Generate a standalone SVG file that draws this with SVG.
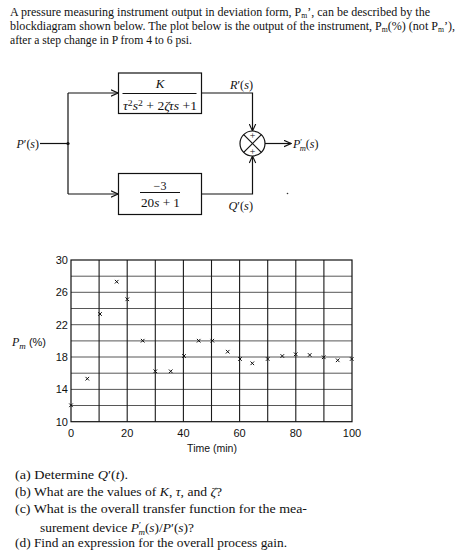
<svg xmlns="http://www.w3.org/2000/svg" width="457" height="556" viewBox="0 0 457 556">
<style>
.ser{font-family:"Liberation Serif","Times New Roman",serif;fill:#111}
.it{font-style:italic}
.sans{font-family:"Liberation Sans",Arial,sans-serif;fill:#111}
.ln{stroke:#111;stroke-width:1.2;fill:none}
.box{stroke:#111;stroke-width:1.2;fill:#fff}
.vg{stroke:#1a1a1a;stroke-width:1.1}
.hg{stroke:#444;stroke-width:0.9}
.mk{stroke:#111;stroke-width:1;fill:none}
</style>
<defs>
<marker id="ah" viewBox="0 0 8 8" refX="7.5" refY="4" markerWidth="8" markerHeight="8" markerUnits="userSpaceOnUse" orient="auto">
<path d="M0.5,0.8 L7.5,4 L0.5,7.2" fill="none" stroke="#111" stroke-width="1.1"/>
</marker>
<path id="x" d="M-1.8,-1.8 L1.8,1.8 M-1.8,1.8 L1.8,-1.8" class="mk"/>
</defs>
<rect width="457" height="556" fill="#fff"/>

<!-- Title -->
<g id="title">
<text class="ser" x="10" y="16" font-size="12.5" textLength="420" lengthAdjust="spacingAndGlyphs">A pressure measuring instrument output in deviation form, P<tspan font-size="8" dy="2">m</tspan><tspan dy="-2">’, can be described by the</tspan></text>
<text class="ser" x="10" y="30" font-size="12.5" textLength="445" lengthAdjust="spacingAndGlyphs">blockdiagram shown below.  The plot below is the output of the instrument, P<tspan font-size="8" dy="2">m</tspan><tspan dy="-2">(%) (not P</tspan><tspan font-size="8" dy="2">m</tspan><tspan dy="-2">’),</tspan></text>
<text class="ser" x="10" y="44" font-size="12.5" textLength="182" lengthAdjust="spacingAndGlyphs">after a step change in P from 4 to 6 psi.</text>
</g>

<!-- Connectors -->
<g id="connectors">
<line class="ln" x1="40" y1="143.5" x2="68" y2="143.5"/>
<line class="ln" x1="68" y1="93" x2="68" y2="194"/>
<line class="ln" x1="68" y1="93" x2="118" y2="93" marker-end="url(#ah)"/>
<line class="ln" x1="68" y1="194" x2="118" y2="194" marker-end="url(#ah)"/>
<circle cx="68" cy="143.5" r="1.6" fill="#111"/>
<polyline class="ln" points="202,93 252.5,93 252.5,131" marker-end="url(#ah)"/>
<polyline class="ln" points="202,194 252.5,194 252.5,156" marker-end="url(#ah)"/>
<line class="ln" x1="265" y1="143.5" x2="291" y2="143.5" marker-end="url(#ah)"/>
</g>

<!-- Nodes -->
<g id="input">
<text class="ser" x="16.5" y="148" font-size="12.5" textLength="22.5" lengthAdjust="spacingAndGlyphs"><tspan class="it">P</tspan>′(<tspan class="it">s</tspan>)</text>
</g>
<g id="block-top">
<rect class="box" x="118.5" y="73" width="83" height="40.5"/>
<text class="ser it" x="160" y="88" font-size="13" text-anchor="middle">K</text>
<line class="ln" x1="122.5" y1="93.5" x2="196.5" y2="93.5" stroke-width="1"/>
<text class="ser" x="123" y="110" font-size="12" textLength="74" lengthAdjust="spacingAndGlyphs"><tspan class="it">τ</tspan><tspan font-size="8.5" dy="-4.5">2</tspan><tspan class="it" dy="4.5">s</tspan><tspan font-size="8.5" dy="-4.5">2</tspan><tspan dy="4.5"> + 2</tspan><tspan class="it">ζτs</tspan> +1</text>
</g>
<g id="block-bottom">
<rect class="box" x="118.5" y="173.5" width="83" height="41"/>
<text class="ser" x="160" y="190" font-size="12" text-anchor="middle">−3</text>
<line class="ln" x1="140" y1="192.5" x2="180" y2="192.5" stroke-width="1"/>
<text class="ser" x="160.5" y="206.5" font-size="12" text-anchor="middle" textLength="39" lengthAdjust="spacingAndGlyphs">20<tspan class="it">s</tspan> + 1</text>
</g>
<g id="label-r">
<text class="ser" x="230" y="89" font-size="12" textLength="23" lengthAdjust="spacingAndGlyphs"><tspan class="it">R</tspan>′(<tspan class="it">s</tspan>)</text>
</g>
<g id="label-q">
<text class="ser" x="228.5" y="209.5" font-size="12" textLength="24.5" lengthAdjust="spacingAndGlyphs"><tspan class="it">Q</tspan>′(<tspan class="it">s</tspan>)</text>
</g>
<g id="sum">
<circle cx="252.5" cy="143.5" r="12.5" fill="#fff" stroke="#111" stroke-width="1.2"/>
<line class="ln" x1="243.7" y1="134.7" x2="261.3" y2="152.3"/>
<line class="ln" x1="243.7" y1="152.3" x2="261.3" y2="134.7"/>
<text class="ser" x="252.5" y="139.2" font-size="10" text-anchor="middle">+</text>
<text class="ser" x="252.5" y="154.5" font-size="10" text-anchor="middle">+</text>
</g>
<g id="output">
<text class="ser" x="293" y="148" font-size="12"><tspan class="it">P</tspan><tspan font-size="8.5" dy="-3">′</tspan><tspan class="it" font-size="8.5" dx="-2.5" dy="6">m</tspan><tspan dy="-3">(</tspan><tspan class="it">s</tspan>)</text>
</g>
<circle cx="287.5" cy="193.5" r="0.8" fill="#333"/>

<!-- Plot -->
<g id="plot">
<g class="hg">
<line x1="71" y1="276.2" x2="352" y2="276.2"/>
<line x1="71" y1="292.3" x2="352" y2="292.3"/>
<line x1="71" y1="308.5" x2="352" y2="308.5"/>
<line x1="71" y1="324.7" x2="352" y2="324.7"/>
<line x1="71" y1="340.9" x2="352" y2="340.9"/>
<line x1="71" y1="357" x2="352" y2="357"/>
<line x1="71" y1="373.2" x2="352" y2="373.2"/>
<line x1="71" y1="389.4" x2="352" y2="389.4"/>
<line x1="71" y1="405.5" x2="352" y2="405.5"/>
</g>
<g class="vg">
<line x1="99.1" y1="260" x2="99.1" y2="421.7"/>
<line x1="127.2" y1="260" x2="127.2" y2="421.7"/>
<line x1="155.3" y1="260" x2="155.3" y2="421.7"/>
<line x1="183.4" y1="260" x2="183.4" y2="421.7"/>
<line x1="211.5" y1="260" x2="211.5" y2="421.7"/>
<line x1="239.6" y1="260" x2="239.6" y2="421.7"/>
<line x1="267.7" y1="260" x2="267.7" y2="421.7"/>
<line x1="295.8" y1="260" x2="295.8" y2="421.7"/>
<line x1="323.9" y1="260" x2="323.9" y2="421.7"/>
</g>
<rect x="71" y="260" width="281" height="161.7" fill="none" stroke="#111" stroke-width="1.2"/>
<g>
<use href="#x" x="71" y="405.3"/>
<use href="#x" x="87.3" y="378.7"/>
<use href="#x" x="100" y="314"/>
<use href="#x" x="116.7" y="281.7"/>
<use href="#x" x="127.3" y="299.3"/>
<use href="#x" x="142.7" y="340.7"/>
<use href="#x" x="155.3" y="371.3"/>
<use href="#x" x="170.7" y="371.3"/>
<use href="#x" x="184" y="356"/>
<use href="#x" x="198.7" y="340.7"/>
<use href="#x" x="212.3" y="340.7"/>
<use href="#x" x="227.7" y="351.7"/>
<use href="#x" x="240" y="359"/>
<use href="#x" x="252.3" y="363.3"/>
<use href="#x" x="267.7" y="359"/>
<use href="#x" x="282.3" y="356"/>
<use href="#x" x="295.7" y="354.3"/>
<use href="#x" x="309.7" y="355"/>
<use href="#x" x="323.7" y="357.3"/>
<use href="#x" x="337.7" y="360.3"/>
<use href="#x" x="351.7" y="359"/>
</g>
<g class="sans" font-size="11" text-anchor="end">
<text x="68" y="264">30</text>
<text x="68" y="296.3">26</text>
<text x="68" y="328.7">22</text>
<text x="68" y="361">18</text>
<text x="68" y="393.4">14</text>
<text x="68" y="425.7">10</text>
</g>
<g class="sans" font-size="11" text-anchor="middle">
<text x="71" y="437">0</text>
<text x="127.2" y="437">20</text>
<text x="183.4" y="437">40</text>
<text x="239.6" y="437">60</text>
<text x="295.8" y="437">80</text>
<text x="352" y="437">100</text>
</g>
<text class="sans" x="212" y="452" font-size="10.5" text-anchor="middle">Time (min)</text>
<text x="12" y="346" font-size="12"><tspan class="ser it">P</tspan><tspan class="ser it" font-size="9" dy="3">m</tspan><tspan class="sans" font-size="11" dy="-3"> (%)</tspan></text>
</g>

<!-- Questions -->
<g id="questions" font-size="13.5">
<text class="ser" x="15" y="479" textLength="113" lengthAdjust="spacingAndGlyphs">(a) Determine <tspan class="it">Q</tspan>′(<tspan class="it">t</tspan>).</text>
<text class="ser" x="15" y="496" textLength="207" lengthAdjust="spacingAndGlyphs">(b) What are the values of <tspan class="it">K</tspan>, <tspan class="it">τ</tspan>, and <tspan class="it">ζ</tspan>?</text>
<text class="ser" x="15" y="513" textLength="292" lengthAdjust="spacingAndGlyphs">(c) What is the overall transfer function for the mea-</text>
<text class="ser" x="40" y="531.5" textLength="154" lengthAdjust="spacingAndGlyphs">surement device <tspan class="it">P</tspan><tspan font-size="9" dy="-4">′</tspan><tspan class="it" font-size="9" dx="-2.5" dy="7">m</tspan><tspan dy="-3">(</tspan><tspan class="it">s</tspan>)/<tspan class="it">P</tspan>′(<tspan class="it">s</tspan>)?</text>
<text class="ser" x="15" y="547" textLength="272" lengthAdjust="spacingAndGlyphs">(d) Find an expression for the overall process gain.</text>
</g>
</svg>
